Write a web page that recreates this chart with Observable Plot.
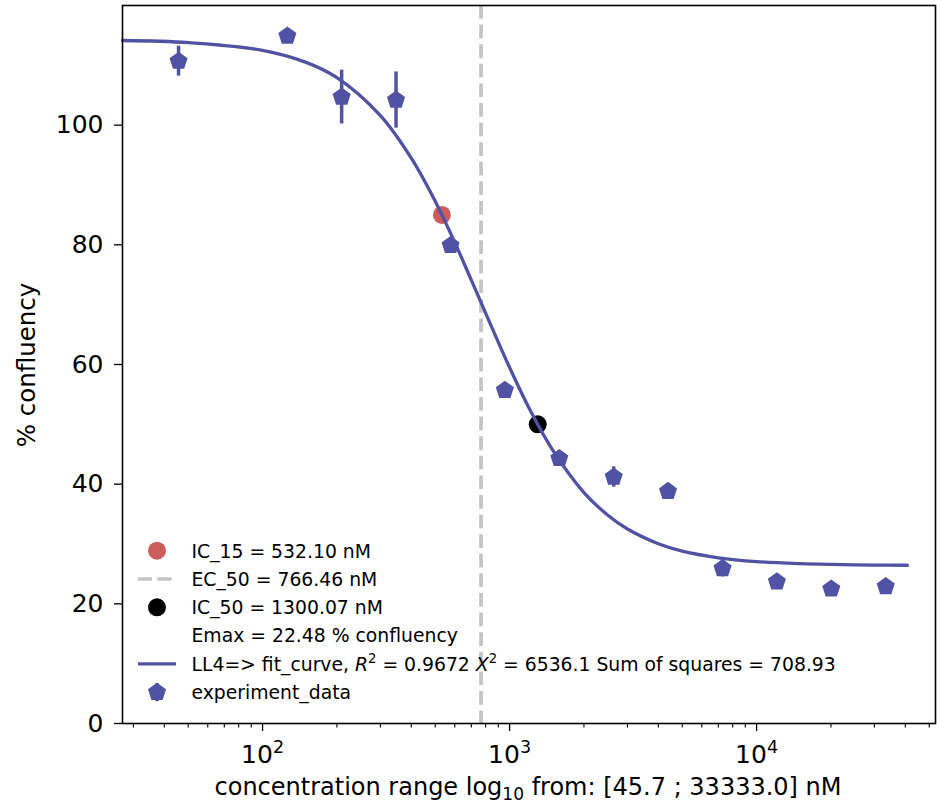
<!DOCTYPE html>
<html>
<head>
<meta charset="utf-8">
<script src="https://cdn.jsdelivr.net/npm/d3@7"></script>
<script src="https://cdn.jsdelivr.net/npm/@observablehq/plot@0.6"></script>
<style>
  html, body { margin: 0; padding: 0; background: white; }
  svg { font-family: "DejaVu Sans", sans-serif; }
</style>
</head>
<body>
<div id="chart"></div>
<script>
// ---- data ----
const concentration = [45.7, 126, 209, 347, 577, 957, 1590, 2640, 4380, 7280, 12080, 20060, 33333];
const confluency    = [110.7, 114.9, 104.7, 104.2, 79.9, 55.7, 44.3, 41.2, 38.8, 25.9, 23.7, 22.5, 22.9];
const errorHalf     = [2.5, 0, 4.5, 4.7, 0, 0, 0, 1.7, 0, 1.4, 0, 0, 0];

// LL4 fitted curve
const fitConc = [27.1, 50, 100, 150, 200, 300, 400, 500, 600, 700, 800, 1000, 1200, 1500, 2000, 2500, 3000, 4000, 5000, 7000, 10000, 15000, 20000, 30000, 40800];
const fitResp = [114.15, 113.8, 112.5, 110.5, 107.95, 101.6, 94.5, 87.3, 80.4, 74.1, 68.6, 59.5, 52.7, 45.6, 38.6, 34.8, 32.5, 30.05, 28.8, 27.7, 27.06, 26.71, 26.58, 26.48, 26.45];

const ic15 = {x: 532.10, y: 85};
const ic50 = {x: 1300.07, y: 50};
const ec50 = 766.46;

const yTicks = [0, 20, 40, 60, 80, 100];
const xMajorTicks = [100, 1000, 10000];
const xMinorTicks = [30, 40, 50, 60, 70, 80, 90, 200, 300, 400, 500, 600, 700, 800, 900,
                     2000, 3000, 4000, 5000, 6000, 7000, 8000, 9000, 20000, 30000, 40000, 50000];

const legendLabels = ["IC_15 = 532.10 nM", "EC_50 = 766.46 nM", "IC_50 = 1300.07 nM", "Emax = 22.48 % confluency"];
const xLabel = ["concentration range log", "10", " from: [45.7 ; 33333.0] nM"];
const yLabel = "% confluency";

// ---- build tables ----
const points = concentration.map((c, i) => ({x: c, y: confluency[i], e: errorHalf[i]}));
const fit = fitConc.map((c, i) => ({x: c, y: fitResp[i]}));

const BLUE = "#5053a4";
const RED = "#cd5c5c";
const GRAY = "#c4c4c4";

const pentagon = {
  draw(context, size) {
    const R = Math.sqrt(size / Math.PI);
    for (let i = 0; i < 5; i++) {
      const a = -Math.PI / 2 + i * 2 * Math.PI / 5;
      const px = R * Math.cos(a), py = R * Math.sin(a);
      if (i === 0) context.moveTo(px, py); else context.lineTo(px, py);
    }
    context.closePath();
  }
};

const svg = Plot.plot({
  width: 937,
  height: 807,
  marginLeft: 122,
  marginRight: 2,
  marginTop: 5,
  marginBottom: 84,
  style: {fontFamily: "DejaVu Sans", fontSize: "25px", color: "black", background: "white", overflow: "visible"},
  x: {type: "log", domain: [27.1, 53000]},
  y: {domain: [0, 120]},
  marks: [
    Plot.dot([ic15], {x: "x", y: "y", r: 9, fill: RED}),
    Plot.dot([ic50], {x: "x", y: "y", r: 9, fill: "black"}),
    Plot.ruleX([ec50], {stroke: GRAY, strokeWidth: 3.7, strokeDasharray: "13.7,5.9"}),
    Plot.line(fit, {x: "x", y: "y", stroke: BLUE, strokeWidth: 3.3, curve: "catmull-rom"}),
    Plot.ruleX(points.filter(d => d.e > 0), {x: "x", y1: d => d.y - d.e, y2: d => d.y + d.e, stroke: BLUE, strokeWidth: 3.5}),
    Plot.dot(points, {x: "x", y: "y", symbol: pentagon, r: 9.5, fill: BLUE, stroke: "none"}),
    Plot.frame({stroke: "black", strokeWidth: 1.6}),
    Plot.axisY(yTicks, {tickSize: 8, tickPadding: 11, label: null, fontSize: 25, strokeWidth: 1.3}),
    Plot.axisX(xMajorTicks, {tickSize: 8, tickPadding: 14, label: null, fontSize: 25, strokeWidth: 1.3,
      tickFormat: d => "10^" + Math.round(Math.log10(d))}),
    Plot.axisX(xMinorTicks, {tickSize: 4.5, label: null, strokeWidth: 1.1, tickFormat: () => ""})
  ]
});

document.getElementById("chart").appendChild(svg);

const NS = "http://www.w3.org/2000/svg";
function el(name, attrs, parent) {
  const e = document.createElementNS(NS, name);
  for (const k in attrs) e.setAttribute(k, attrs[k]);
  if (parent) parent.appendChild(e);
  return e;
}
function tspan(parent, text, attrs = {}) {
  const t = el("tspan", attrs, parent);
  t.textContent = text;
  return t;
}

// superscript exponents on x tick labels
svg.querySelectorAll('[aria-label="x-axis tick label"] text').forEach(t => {
  const m = (t.textContent || "").match(/^10\^(\d+)$/);
  if (m) {
    t.textContent = "";
    tspan(t, "10");
    tspan(t, m[1], {dy: "-10", "font-size": "17.5px"});
  }
});

// axis labels
const xl = el("text", {x: 528, y: 795, "text-anchor": "middle", "font-size": "24px", fill: "black", "font-family": "DejaVu Sans"}, svg);
tspan(xl, xLabel[0]);
tspan(xl, xLabel[1], {dy: "5", "font-size": "17px"});
tspan(xl, xLabel[2], {dy: "-5"});

const yl = el("text", {transform: "translate(35,365) rotate(-90)", "text-anchor": "middle", "font-size": "24.5px", fill: "black", "font-family": "DejaVu Sans"}, svg);
yl.textContent = yLabel;

// legend
const lg = el("g", {"font-family": "DejaVu Sans", "font-size": "18.8px", fill: "black", "text-anchor": "start"}, svg);
const rowY = [550.7, 579, 607.3, 635.6, 663.9, 692.2];
const mx = 157, tx = 191.5;
el("circle", {cx: mx, cy: rowY[0], r: 9, fill: RED}, lg);
el("line", {x1: 138, x2: 176, y1: rowY[1], y2: rowY[1], stroke: GRAY, "stroke-width": 3.7, "stroke-dasharray": "14,5.5"}, lg);
el("circle", {cx: mx, cy: rowY[2], r: 9, fill: "black"}, lg);
el("line", {x1: 138, x2: 176, y1: rowY[4], y2: rowY[4], stroke: BLUE, "stroke-width": 3.3}, lg);
el("line", {x1: mx, x2: mx, y1: rowY[5] - 9, y2: rowY[5] + 9, stroke: BLUE, "stroke-width": 3.5}, lg);
const pg = d3.symbol(pentagon, 9.5 * 9.5 * Math.PI)();
el("path", {d: pg, transform: `translate(${mx},${rowY[5]})`, fill: BLUE}, lg);

legendLabels.forEach((s, i) => {
  const t = el("text", {x: tx, y: rowY[i] + 6.8, "text-anchor": "start"}, lg);
  t.textContent = s;
});
const ll4 = el("text", {x: tx, y: rowY[4] + 6.8, "text-anchor": "start"}, lg);
tspan(ll4, "LL4=> fit_curve, ");
tspan(ll4, "R", {"font-style": "italic"});
tspan(ll4, "2", {dy: "-8", "font-size": "13.2px"});
tspan(ll4, " = 0.9672 ", {dy: "8"});
tspan(ll4, "X", {"font-style": "italic"});
tspan(ll4, "2", {dy: "-8", "font-size": "13.2px"});
tspan(ll4, " = 6536.1 Sum of squares = 708.93", {dy: "8"});
const ed = el("text", {x: tx, y: rowY[5] + 6.8, "text-anchor": "start"}, lg);
ed.textContent = "experiment_data";
</script>
</body>
</html>
